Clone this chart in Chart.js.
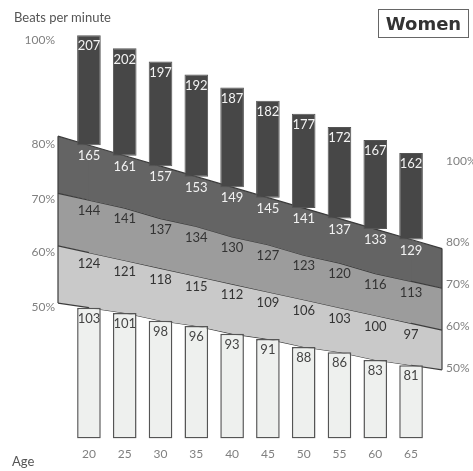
<!DOCTYPE html>
<html>
<head>
<meta charset="utf-8">
<script src="https://cdn.jsdelivr.net/npm/chart.js@4/dist/chart.umd.min.js"></script>
<style>
  html, body { margin: 0; padding: 0; background: #fff; }
  #wrap { position: relative; width: 473px; height: 471px; overflow: hidden; }
  #chart { position: absolute; left: 0; top: 0; }
  .ttl { position: absolute; font-family: 'Lato', sans-serif; color: #555; font-size: 13px; line-height: 15px; }
  #box { position: absolute; left: 378px; top: 9px; width: 89px; height: 27px; border: 1.5px solid #666;
         font-family: 'DejaVu Sans', sans-serif; font-weight: bold; font-size: 18px; color: #333;
         text-align: center; line-height: 27px; }
</style>
</head>
<body>
<div id="wrap">
  <canvas id="chart" width="473" height="471"></canvas>
  <div class="ttl" style="left:14px;top:10px;">Beats per minute</div>
  <div class="ttl" style="left:12px;top:454px;">Age</div>
  <div id="box">Women</div>
</div>
<script>
  'use strict';

  const AGES = [20, 25, 30, 35, 40, 45, 50, 55, 60, 65];
  const MAX_HR = [207, 202, 197, 192, 187, 182, 177, 172, 167, 162];
  const HR_80 = [165, 161, 157, 153, 149, 145, 141, 137, 133, 129];
  const HR_70 = [144, 141, 137, 134, 130, 127, 123, 120, 116, 113];
  const HR_60 = [124, 121, 118, 115, 112, 109, 106, 103, 100, 97];
  const HR_50 = [103, 101, 98, 96, 93, 91, 88, 86, 83, 81];
  const PCT_LABELS = ['100%', '80%', '70%', '60%', '50%'];

  const Y_MIN = 53, Y_MAX = 209;
  const DARK = '#474747';
  const BAND_COLORS = ['#646464', '#9c9c9c', '#c9c9c9'];
  const LINE_COLOR = '#3c3c3c';
  const FONT = "'Lato', sans-serif";

  const pts = s => AGES.map((a, i) => ({ x: a, y: s[i] }));

  // carry the bands out to the outer edges of the first and last bar
  const edgeBands = {
    id: 'edgeBands',
    beforeDatasetsDraw(chart) {
      const { ctx, chartArea: a, scales: { x, y } } = chart;
      const n = AGES.length;
      const bounds = [HR_80, HR_70, HR_60, HR_50];
      const x0 = x.getPixelForValue(AGES[0]), x1 = x.getPixelForValue(AGES[1]);
      const xa = x.getPixelForValue(AGES[n - 2]), xb = x.getPixelForValue(AGES[n - 1]);
      const ends = bounds.map(s => {
        const y0 = y.getPixelForValue(s[0]), y1 = y.getPixelForValue(s[1]);
        const ya = y.getPixelForValue(s[n - 2]), yb = y.getPixelForValue(s[n - 1]);
        return {
          ly: y0 - (y1 - y0) / (x1 - x0) * (x0 - a.left), y0,
          ry: yb + (yb - ya) / (xb - xa) * (a.right - xb), yb
        };
      });
      ctx.save();
      for (let i = 0; i < 3; i++) {
        const t = ends[i], b = ends[i + 1];
        ctx.fillStyle = BAND_COLORS[i];
        ctx.beginPath();
        ctx.moveTo(a.left, t.ly); ctx.lineTo(x0 + 1, t.y0);
        ctx.lineTo(x0 + 1, b.y0); ctx.lineTo(a.left, b.ly);
        ctx.closePath(); ctx.fill();
        ctx.beginPath();
        ctx.moveTo(xb - 1, t.yb); ctx.lineTo(a.right, t.ry);
        ctx.lineTo(a.right, b.ry); ctx.lineTo(xb - 1, b.yb);
        ctx.closePath(); ctx.fill();
      }
      ctx.strokeStyle = LINE_COLOR;
      ctx.lineWidth = 1.2;
      ends.forEach(e => {
        ctx.beginPath(); ctx.moveTo(a.left, e.ly); ctx.lineTo(x0, e.y0); ctx.stroke();
        ctx.beginPath(); ctx.moveTo(xb, e.yb); ctx.lineTo(a.right, e.ry); ctx.stroke();
      });
      ctx.beginPath();
      ctx.moveTo(a.left, ends[0].ly); ctx.lineTo(a.left, ends[3].ly);
      ctx.moveTo(a.right, ends[0].ry); ctx.lineTo(a.right, ends[3].ry);
      ctx.stroke();
      ctx.restore();
    }
  };

  // numbers on the bars and bands, percent labels at both ends
  const valueLabels = {
    id: 'valueLabels',
    afterDatasetsDraw(chart) {
      const { ctx, chartArea: a, scales: { x, y } } = chart;
      const rows = [[MAX_HR, '#f2f2f2'], [HR_80, '#f2f2f2'], [HR_70, '#333'], [HR_60, '#333'], [HR_50, '#444']];
      ctx.save();
      ctx.font = '13px ' + FONT;
      ctx.textAlign = 'center';
      ctx.textBaseline = 'middle';
      rows.forEach(([s, c]) => {
        ctx.fillStyle = c;
        s.forEach((v, i) => ctx.fillText(String(v), x.getPixelForValue(AGES[i]), y.getPixelForValue(v) + 11));
      });
      ctx.font = '12px ' + FONT;
      ctx.fillStyle = '#808080';
      const n = AGES.length;
      [MAX_HR, HR_80, HR_70, HR_60, HR_50].forEach((s, k) => {
        ctx.textAlign = 'right';
        ctx.fillText(PCT_LABELS[k], a.left - 3, y.getPixelForValue(s[0]) + (k === 0 ? 5 : -1));
        ctx.textAlign = 'left';
        ctx.fillText(PCT_LABELS[k], a.right + 4, y.getPixelForValue(s[n - 1]) + (k === 0 ? 8 : 3));
      });
      ctx.restore();
    }
  };

  const bandLine = (label, data, fill, bg) => ({
    type: 'line',
    label,
    data: pts(data),
    borderColor: LINE_COLOR,
    borderWidth: 1.2,
    backgroundColor: bg || 'transparent',
    fill,
    pointRadius: 0,
    tension: 0,
    order: 2
  });

  new Chart(document.getElementById('chart'), {
    type: 'bar',
    data: {
      datasets: [
        {
          label: '80-100%',
          data: AGES.map((a, i) => ({ x: a, y: [HR_80[i], MAX_HR[i]] })),
          backgroundColor: DARK,
          borderColor: '#555',
          borderWidth: 1,
          borderSkipped: false,
          order: 0
        },
        {
          label: 'below 50%',
          data: AGES.map((a, i) => ({ x: a, y: [Y_MIN, HR_50[i]] })),
          backgroundColor: '#eef0ee',
          borderColor: '#555',
          borderWidth: 1.5,
          borderSkipped: false,
          order: 0
        },
        bandLine('80%', HR_80, '+1', BAND_COLORS[0]),
        bandLine('70%', HR_70, '+1', BAND_COLORS[1]),
        bandLine('60%', HR_60, '+1', BAND_COLORS[2]),
        bandLine('50%', HR_50, false)
      ]
    },
    options: {
      responsive: false,
      animation: false,
      grouped: false,
      categoryPercentage: 1,
      barPercentage: 0.66,
      layout: { padding: { left: 58, right: 31, top: 30, bottom: 2 } },
      plugins: { legend: { display: false }, tooltip: { enabled: false } },
      scales: {
        x: {
          type: 'linear',
          min: 18.36,
          max: 66.64,
          afterBuildTicks: s => { s.ticks = AGES.map(v => ({ value: v })); },
          grid: { display: false, drawTicks: false },
          border: { display: false },
          ticks: { color: '#808080', padding: 8, font: { family: FONT, size: 12 } }
        },
        y: { display: false, min: Y_MIN, max: Y_MAX }
      }
    },
    plugins: [edgeBands, valueLabels]
  });
</script>
</body>
</html>
